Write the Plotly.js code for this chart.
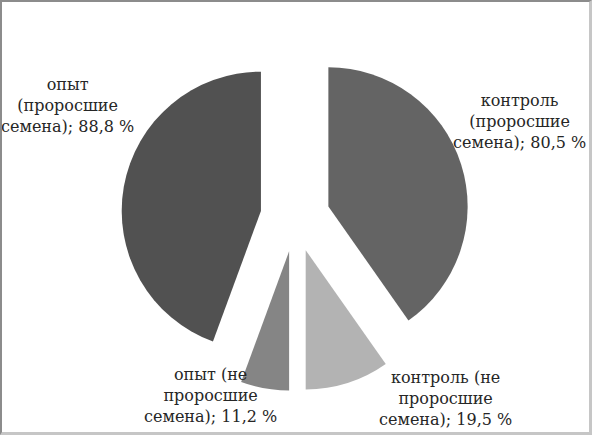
<!DOCTYPE html>
<html>
<head>
<meta charset="utf-8">
<script src="https://cdn.plot.ly/plotly-3.0.1.min.js"></script>
<style>
  html, body { margin: 0; padding: 0; background: #ffffff; }
  #frame {
    width: 587px;
    height: 430px;
    border-left: 2px solid #8c8c8c;
    border-top: 2px solid #8c8c8c;
    border-right: 3px solid #c6c6c6;
    border-bottom: 3px solid #c6c6c6;
  }
  #chart { width: 587px; height: 430px; }
</style>
</head>
<body>
<div id="frame"><div id="chart"></div></div>
<script>
  // slices, clockwise from 12 o'clock
  const categories = [
    "контроль (проросшие семена)",
    "контроль (не проросшие семена)",
    "опыт (не проросшие семена)",
    "опыт (проросшие семена)"
  ];
  const labelLines = [
    "контроль<br>(проросшие<br>семена)",
    "контроль (не<br>проросшие<br>семена)",
    "опыт (не<br>проросшие<br>семена)",
    "опыт<br>(проросшие<br>семена)"
  ];
  const percents = [80.5, 19.5, 11.2, 88.8];

  const sliceColors = ["#646464", "#b3b3b3", "#858585", "#515151"];
  const labelPos = [
    { x: 0.882, y: 0.721 },
    { x: 0.755, y: 0.079 },
    { x: 0.356, y: 0.086 },
    { x: 0.111, y: 0.760 }
  ];

  function formatPct(v) {
    return v.toFixed(1).replace(".", ",") + " %";
  }

  const trace = {
    type: "pie",
    labels: categories,
    values: percents,
    sort: false,
    direction: "clockwise",
    rotation: 0,
    pull: [0.25, 0.25, 0.25, 0.25],
    textinfo: "none",
    hoverinfo: "label+value",
    marker: { colors: sliceColors, line: { width: 0 } },
    domain: { x: [0.203, 0.796], y: [0.095, 0.905] }
  };

  const annotations = categories.map(function (_c, i) {
    return {
      xref: "paper",
      yref: "paper",
      x: labelPos[i].x,
      y: labelPos[i].y,
      xanchor: "center",
      yanchor: "middle",
      align: "center",
      showarrow: false,
      text: labelLines[i] + "; " + formatPct(percents[i]),
      font: { family: "DejaVu Serif", size: 16, color: "#262626" }
    };
  });

  const layout = {
    width: 587,
    height: 430,
    margin: { l: 0, r: 0, t: 0, b: 0 },
    paper_bgcolor: "#ffffff",
    showlegend: false,
    annotations: annotations
  };

  Plotly.newPlot("chart", [trace], layout, { displayModeBar: false, staticPlot: true });
</script>
</body>
</html>
